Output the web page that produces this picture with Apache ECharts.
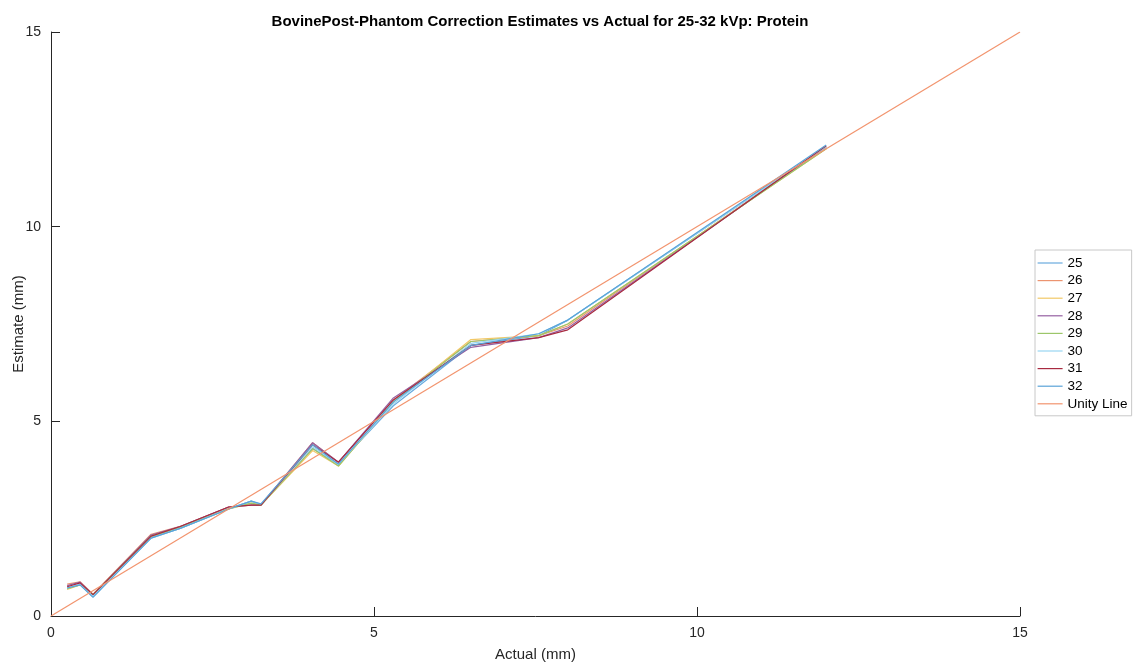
<!DOCTYPE html>
<html>
<head>
<meta charset="utf-8">
<script src="https://cdn.jsdelivr.net/npm/echarts@6/dist/echarts.min.js"></script>
<style>
html,body{margin:0;padding:0;background:#fff;}
#chart{width:1134px;height:668px;}
</style>
</head>
<body>
<div id="chart"></div>
<script>
var actual = [0.25, 0.45, 0.65, 1.55, 2.0, 2.75, 3.1, 3.25, 4.05, 4.45, 5.3, 6.5, 7.55, 8.0, 12.0];
var seriesNames = ['25', '26', '27', '28', '29', '30', '31', '32'];
var est25 = [0.72, 0.80, 0.50, 2.02, 2.25, 2.75, 2.95, 2.85, 4.30, 3.90, 5.40, 6.95, 7.20, 7.60, 12.05];
var est26 = [0.82, 0.88, 0.56, 2.10, 2.30, 2.80, 2.85, 2.85, 4.45, 3.95, 5.55, 7.05, 7.20, 7.45, 12.05];
var est27 = [0.68, 0.80, 0.55, 2.05, 2.28, 2.75, 2.90, 2.85, 4.25, 3.85, 5.50, 7.10, 7.20, 7.50, 12.00];
var est28 = [0.78, 0.87, 0.55, 2.08, 2.30, 2.80, 2.85, 2.85, 4.45, 3.95, 5.60, 6.90, 7.15, 7.40, 12.05];
var est29 = [0.70, 0.80, 0.55, 2.05, 2.27, 2.75, 2.90, 2.85, 4.30, 3.85, 5.50, 7.05, 7.20, 7.50, 12.00];
var est30 = [0.72, 0.82, 0.50, 2.00, 2.25, 2.75, 2.95, 2.87, 4.35, 3.90, 5.45, 7.00, 7.25, 7.60, 12.05];
var est31 = [0.75, 0.85, 0.55, 2.05, 2.30, 2.80, 2.85, 2.85, 4.40, 3.95, 5.55, 6.95, 7.15, 7.35, 12.08];
var est32 = [0.72, 0.80, 0.48, 2.00, 2.25, 2.75, 2.95, 2.88, 4.40, 3.90, 5.50, 6.95, 7.25, 7.60, 12.10];
var unityX = [0, 15];
var unityY = [0, 15];
var xTicks = [0, 5, 10, 15];
var yTicks = [0, 5, 10, 15];

var estimates = [est25, est26, est27, est28, est29, est30, est31, est32];
var colors = ['#6aaade', '#ec9470', '#f2c866', '#9560a2', '#9cc66a', '#98d6f2', '#a82a40', '#5aa3d8'];
var unityColor = '#f2946e';

function pairs(xs, ys) {
  return xs.map(function (x, i) { return [x, ys[i]]; });
}

var series = seriesNames.map(function (n, i) {
  return {
    name: n, type: 'line', data: pairs(actual, estimates[i]),
    showSymbol: false, symbol: 'none',
    lineStyle: { width: 1.2, color: colors[i] }, itemStyle: { color: colors[i] },
    animation: false
  };
});
series.push({
  name: 'Unity Line', type: 'line', data: pairs(unityX, unityY),
  showSymbol: false, symbol: 'none',
  lineStyle: { width: 1.2, color: unityColor }, itemStyle: { color: unityColor },
  animation: false
});

var font = 'Liberation Sans, Arial, sans-serif';
var chart = echarts.init(document.getElementById('chart'), null, { renderer: 'canvas' });
chart.setOption({
  animation: false,
  backgroundColor: '#ffffff',
  title: {
    text: 'BovinePost-Phantom Correction Estimates vs Actual for 25-32 kVp: Protein',
    left: 535, top: 9, textAlign: 'center',
    textStyle: { fontFamily: font, fontSize: 15, fontWeight: 'bold', color: '#000' }
  },
  grid: { left: 51, right: 114, top: 32, bottom: 52, containLabel: false, outerBoundsMode: 'none' },
  legend: {
    orient: 'vertical', left: 1035, top: 250,
    data: seriesNames.concat(['Unity Line']),
    itemWidth: 25, itemHeight: 10, itemGap: 3.6,
    itemStyle: { opacity: 0 },
    lineStyle: { width: 1.2 },
    borderColor: '#c8c8c8', borderWidth: 1, padding: [6, 4, 5, 2],
    textStyle: { fontFamily: font, fontSize: 13.5, color: '#000', padding: [0, 0, 0, 0] }
  },
  xAxis: {
    type: 'value', min: 0, max: 15, interval: 5,
    name: 'Actual (mm)', nameLocation: 'middle', nameGap: 31,
    nameTextStyle: { fontFamily: font, fontSize: 15, color: '#262626' },
    axisLine: { show: true, lineStyle: { color: '#262626', width: 1 } },
    axisTick: { show: true, inside: true, length: 9, lineStyle: { color: '#262626' } },
    axisLabel: { fontFamily: font, fontSize: 14, color: '#262626', margin: 10,
      formatter: function (v) { return xTicks.indexOf(v) >= 0 ? String(v) : ''; } },
    splitLine: { show: false }
  },
  yAxis: {
    type: 'value', min: 0, max: 15, interval: 5,
    name: 'Estimate (mm)', nameLocation: 'middle', nameGap: 25, nameRotate: 90,
    nameMoveOverlap: false,
    nameTextStyle: { fontFamily: font, fontSize: 15, color: '#262626' },
    axisLine: { show: true, lineStyle: { color: '#262626', width: 1 } },
    axisTick: { show: true, inside: true, length: 9, lineStyle: { color: '#262626' } },
    axisLabel: { fontFamily: font, fontSize: 14, color: '#262626', margin: 10,
      formatter: function (v) { return yTicks.indexOf(v) >= 0 ? String(v) : ''; } },
    splitLine: { show: false }
  },
  series: series
});
</script>
</body>
</html>
